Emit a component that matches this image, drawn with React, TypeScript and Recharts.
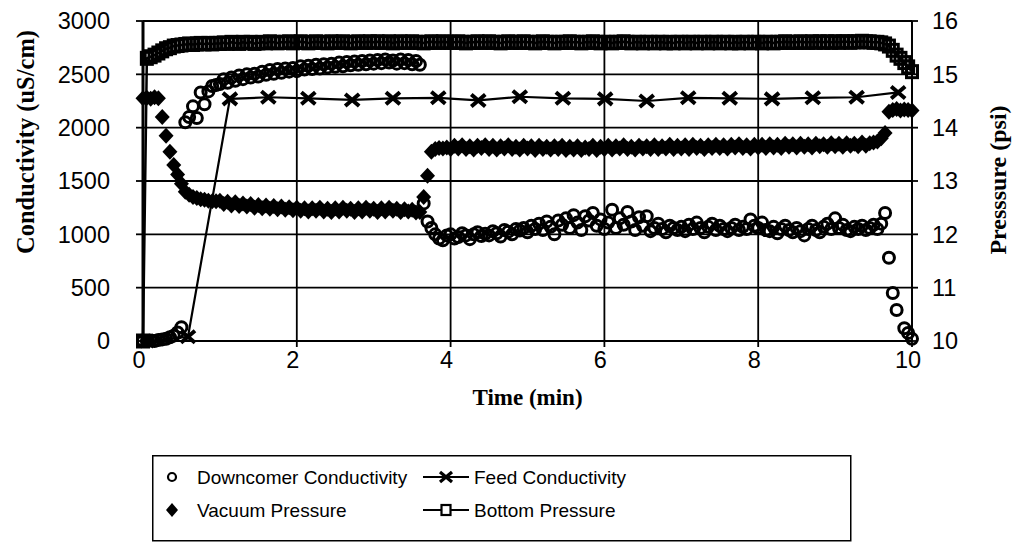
import { ComposedChart, CartesianGrid, XAxis, YAxis, Scatter, Line } from 'recharts';

// logger interval: 3 s = 0.05 min, sample i is at t = i * 0.05
const SAMPLE_MIN = 0.05;

// Downcomer conductivity (uS/cm), null = no reading
const downcomerCond: (number | null)[] = [
  0, 0, 5, 0, 10, 15, 20, 35, 50, 80,
  130, 2050, 2100, 2200, 2090, 2330, 2220, 2340, 2390, 2400,
  2410, 2455, 2420, 2470, 2440, 2490, 2455, 2500, 2470, 2505,
  2480, 2525, 2495, 2540, 2505, 2550, 2515, 2555, 2525, 2560,
  2530, 2575, 2545, 2580, 2550, 2590, 2555, 2595, 2565, 2600,
  2570, 2610, 2575, 2615, 2585, 2620, 2590, 2625, 2595, 2630,
  2600, 2635, 2605, 2640, 2610, 2630, 2600, 2640, 2605, 2635,
  2595, 2625, 2590, 1290, 1120, 1060, 1000, 960, 945, 990,
  1000, 960, 975, 1010, 990, 955, 1000, 1020, 985, 1005,
  990, 1030, 1010, 980, 1040, 1025, 1000, 1050, 1035, 1060,
  1020, 1080, 1050, 1100, 1040, 1120, 1070, 1000, 1130, 1090,
  1150, 1060, 1180, 1110, 1040, 1170, 1130, 1200, 1080, 1140,
  1050, 1110, 1230, 1060, 1150, 1090, 1210, 1120, 1040, 1160,
  1080, 1170, 1030, 1060, 1100, 1050, 1020, 1080, 1060, 1040,
  1070, 1030, 1090, 1050, 1110, 1060, 1020, 1070, 1100, 1040,
  1080, 1050, 1030, 1060, 1090, 1040, 1070, 1050, 1140, 1080,
  1060, 1110, 1040, 1030, 1070, 1010, 1050, 1080, 1040, 1020,
  1060, 1030, 990, 1050, 1080, 1040, 1020, 1070, 1100, 1050,
  1150, 1060, 1090, 1040, 1030, 1070, 1050, 1080, 1040, 1060,
  1090, 1050, 1100, 1200, 780, 450, 290, null, 120, 75,
  20,
];

// Vacuum pressure (psi)
const vacuumPsi = [
  14.55, 14.56, 14.54, 14.57, 14.55, 14.2, 13.85, 13.55, 13.3, 13.12,
  12.95, 12.8, 12.74, 12.7, 12.68, 12.66, 12.65, 12.63, 12.62, 12.62,
  12.63, 12.57, 12.61, 12.54, 12.6, 12.53, 12.58, 12.52, 12.57, 12.5,
  12.55, 12.49, 12.54, 12.48, 12.53, 12.47, 12.52, 12.46, 12.51, 12.45,
  12.5, 12.44, 12.49, 12.43, 12.49, 12.44, 12.5, 12.43, 12.48, 12.42,
  12.49, 12.43, 12.5, 12.44, 12.48, 12.42, 12.49, 12.43, 12.5, 12.44,
  12.48, 12.42, 12.49, 12.43, 12.5, 12.44, 12.48, 12.42, 12.47, 12.43,
  12.46, 12.41, 12.42, 12.7, 13.1, 13.55, 13.6, 13.62, 13.61, 13.63,
  13.6, 13.66, 13.61, 13.67, 13.6, 13.65, 13.59, 13.66, 13.62, 13.67,
  13.6, 13.66, 13.59, 13.65, 13.61, 13.67, 13.6, 13.64, 13.59, 13.66,
  13.61, 13.65, 13.58, 13.66, 13.6, 13.64, 13.59, 13.65, 13.6, 13.66,
  13.58, 13.64, 13.59, 13.65, 13.58, 13.63, 13.6, 13.66, 13.58, 13.64,
  13.6, 13.66, 13.59, 13.65, 13.61, 13.67, 13.6, 13.64, 13.59, 13.66,
  13.61, 13.65, 13.6, 13.67, 13.6, 13.65, 13.61, 13.68, 13.6, 13.66,
  13.61, 13.67, 13.6, 13.68, 13.62, 13.66, 13.6, 13.67, 13.62, 13.68,
  13.62, 13.67, 13.61, 13.68, 13.63, 13.69, 13.62, 13.67, 13.61, 13.68,
  13.63, 13.68, 13.62, 13.69, 13.63, 13.68, 13.62, 13.7, 13.64, 13.69,
  13.63, 13.7, 13.64, 13.69, 13.63, 13.7, 13.65, 13.69, 13.64, 13.71,
  13.65, 13.7, 13.64, 13.71, 13.66, 13.7, 13.65, 13.72, 13.66, 13.71,
  13.72, 13.74, 13.8, 13.9, 14.3, 14.33, 14.35, 14.32, 14.34, 14.33,
  14.32,
];

// Bottom pressure (psi)
const bottomPsi = [
  10.0, 15.3, 15.33, 15.36, 15.4, 15.44, 15.48, 15.5, 15.53, 15.54,
  15.55, 15.56, 15.57, 15.56, 15.57, 15.58, 15.57, 15.58, 15.57, 15.58,
  15.58, 15.59, 15.58, 15.6, 15.59, 15.58, 15.6, 15.59, 15.6, 15.58,
  15.59, 15.6, 15.59, 15.61, 15.6, 15.59, 15.6, 15.6, 15.61, 15.59,
  15.6, 15.61, 15.6, 15.59, 15.6, 15.61, 15.6, 15.6, 15.59, 15.61,
  15.6, 15.6, 15.61, 15.6, 15.59, 15.6, 15.61, 15.6, 15.6, 15.61,
  15.6, 15.61, 15.6, 15.6, 15.61, 15.59, 15.6, 15.61, 15.6, 15.6,
  15.61, 15.6, 15.6, 15.59, 15.6, 15.61, 15.6, 15.6, 15.61, 15.6,
  15.6, 15.6, 15.61, 15.6, 15.59, 15.6, 15.6, 15.61, 15.6, 15.6,
  15.61, 15.6, 15.6, 15.59, 15.6, 15.61, 15.6, 15.6, 15.6, 15.61,
  15.6, 15.6, 15.59, 15.6, 15.61, 15.6, 15.6, 15.59, 15.6, 15.6,
  15.6, 15.61, 15.6, 15.6, 15.59, 15.6, 15.6, 15.61, 15.6, 15.59,
  15.6, 15.6, 15.59, 15.6, 15.6, 15.61, 15.6, 15.59, 15.6, 15.6,
  15.59, 15.6, 15.6, 15.59, 15.6, 15.6, 15.59, 15.6, 15.59, 15.6,
  15.6, 15.59, 15.6, 15.6, 15.59, 15.6, 15.6, 15.59, 15.6, 15.6,
  15.59, 15.6, 15.6, 15.59, 15.6, 15.59, 15.6, 15.6, 15.59, 15.6,
  15.6, 15.59, 15.6, 15.6, 15.59, 15.6, 15.6, 15.61, 15.6, 15.6,
  15.6, 15.61, 15.6, 15.6, 15.61, 15.6, 15.61, 15.6, 15.61, 15.6,
  15.61, 15.6, 15.61, 15.61, 15.6, 15.61, 15.61, 15.62, 15.61, 15.61,
  15.6, 15.6, 15.59, 15.57, 15.53, 15.45, 15.36, 15.3, 15.22, 15.14,
  15.05,
];

// Feed conductivity is logged less often
const feedTime = [0.05, 0.585, 1.13, 1.63, 2.15, 2.72, 3.25, 3.84, 4.36, 4.9, 5.46, 6.01, 6.55, 7.09, 7.63, 8.18, 8.71, 9.28, 9.82];
const feedCond = [0, 40, 2270, 2285, 2275, 2260, 2275, 2280, 2255, 2290, 2275, 2270, 2250, 2280, 2275, 2270, 2280, 2285, 2330];

const timeTicks = [0, 2, 4, 6, 8, 10];
const condTicks = [0, 500, 1000, 1500, 2000, 2500, 3000];
const psiTicks = [10, 11, 12, 13, 14, 15, 16];

const minuteAt = (i: number) => Math.round(i * SAMPLE_MIN * 100) / 100;

const downcomerData = downcomerCond
  .map((c, i) => ({ t: minuteAt(i), c }))
  .filter((d) => d.c !== null);
const vacuumData = vacuumPsi.map((p, i) => ({ t: minuteAt(i), p }));
const bottomData = bottomPsi.map((p, i) => ({ t: minuteAt(i), p }));
const feedData = feedTime.map((t, i) => ({ t, c: feedCond[i] }));

const INK = '#000';
const SANS = '"Liberation Sans", Arial, sans-serif';
const SERIF = '"Liberation Serif", "Times New Roman", serif';

const tickStyle = { fill: INK, fontSize: 23.5, fontFamily: SANS };
const lineStyle = { stroke: INK, strokeWidth: 1.8 };

const OpenCircle = (props: any) => (
  <circle cx={props.cx} cy={props.cy} r={5.5} fill="none" stroke={INK} strokeWidth={3} />
);

const Diamond = (props: any) => {
  const { cx, cy } = props;
  return <polygon points={`${cx},${cy - 8} ${cx + 7.5},${cy} ${cx},${cy + 8} ${cx - 7.5},${cy}`} fill={INK} />;
};

const CrossDot = (props: any) => {
  const { cx, cy, index } = props;
  return (
    <path
      key={`feed-${index}`}
      d={`M${cx - 7},${cy - 6}L${cx + 7},${cy + 6}M${cx + 7},${cy - 6}L${cx - 7},${cy + 6}`}
      stroke={INK}
      strokeWidth={4}
      fill="none"
    />
  );
};

const SquareDot = (props: any) => {
  const { cx, cy, index } = props;
  return <rect key={`bot-${index}`} x={cx - 5.5} y={cy - 6} width={11} height={12} fill="none" stroke={INK} strokeWidth={3} />;
};

const condTitle = (props: any) => {
  const { x, y } = props.viewBox;
  const cx = x + 25;
  const cy = y + 121;
  return (
    <text x={cx} y={cy} transform={`rotate(-90 ${cx} ${cy})`} textAnchor="middle" dominantBaseline="central"
      fontFamily={SERIF} fontWeight="bold" fontSize={24.5} fill={INK}>
      Conductivity (uS/cm)
    </text>
  );
};

const psiTitle = (props: any) => {
  const { x, y } = props.viewBox;
  const cx = x + 86;
  const cy = y + 159;
  return (
    <text x={cx} y={cy} transform={`rotate(-90 ${cx} ${cy})`} textAnchor="middle" dominantBaseline="central"
      fontFamily={SERIF} fontWeight="bold" fontSize={24} fill={INK}>
      Presssure (psi)
    </text>
  );
};

const timeTitle = (props: any) => {
  const { x, y, width } = props.viewBox;
  return (
    <text x={x + width / 2} y={y + 56} textAnchor="middle" dominantBaseline="central"
      fontFamily={SERIF} fontWeight="bold" fontSize={23} fill={INK}>
      Time (min)
    </text>
  );
};

const legendItems = [
  { name: 'Downcomer Conductivity', mark: 'circle' },
  { name: 'Feed Conductivity', mark: 'cross' },
  { name: 'Vacuum Pressure', mark: 'diamond' },
  { name: 'Bottom Pressure', mark: 'square' },
];

function LegendMark({ mark, x, y }: { mark: string; x: number; y: number }) {
  if (mark === 'circle') return <circle cx={x} cy={y} r={4} fill="none" stroke={INK} strokeWidth={2.2} />;
  if (mark === 'diamond') return <polygon points={`${x},${y - 7} ${x + 6},${y} ${x},${y + 7} ${x - 6},${y}`} fill={INK} />;
  const line = <line x1={x - 23} x2={x + 23} y1={y} y2={y} stroke={INK} strokeWidth={2.2} />;
  if (mark === 'cross')
    return (
      <g>
        {line}
        <path d={`M${x - 6},${y - 5}L${x + 6},${y + 5}M${x + 6},${y - 5}L${x - 6},${y + 5}`} stroke={INK} strokeWidth={3.2} />
      </g>
    );
  return (
    <g>
      {line}
      <rect x={x - 4.5} y={y - 5} width={9} height={10} fill="#fff" stroke={INK} strokeWidth={2.2} />
    </g>
  );
}

function LegendBox() {
  return (
    <svg width={700} height={87} style={{ position: 'absolute', left: 152, top: 455 }}>
      <rect x={0.75} y={0.75} width={698} height={85} fill="#fff" stroke={INK} strokeWidth={1.5} />
      {legendItems.map((item, i) => {
        const col = i % 2;
        const row = Math.floor(i / 2);
        const y = 22 + row * 33;
        const markX = col === 0 ? 20 : 294;
        const textX = col === 0 ? 45 : 322;
        return (
          <g key={item.name}>
            <LegendMark mark={item.mark} x={markX} y={y} />
            <text x={textX} y={y} dominantBaseline="central" fontFamily={SANS} fontSize={19} fill={INK}>
              {item.name}
            </text>
          </g>
        );
      })}
    </svg>
  );
}

export default function App() {
  return (
    <div style={{ position: 'fixed', left: 0, top: 0, width: 1017, height: 548, background: '#fff' }}>
      <ComposedChart width={1017} height={548} margin={{ top: 21, right: 0, bottom: 0, left: 0 }}>
        <CartesianGrid yAxisId="cond" stroke={INK} strokeWidth={1.8} />
        <XAxis
          type="number"
          dataKey="t"
          domain={[0, 10]}
          ticks={timeTicks}
          interval={0}
          height={207}
          tickSize={6}
          tickMargin={4}
          axisLine={lineStyle}
          tickLine={lineStyle}
          tick={{ ...tickStyle, dx: -4 }}
          label={timeTitle}
        />
        <YAxis
          yAxisId="cond"
          dataKey="c"
          domain={[0, 3000]}
          ticks={condTicks}
          interval={0}
          width={143}
          tickSize={7}
          tickMargin={26}
          axisLine={{ stroke: INK, strokeWidth: 3 }}
          tickLine={lineStyle}
          tick={tickStyle}
          label={condTitle}
        />
        <YAxis
          yAxisId="psi"
          orientation="right"
          dataKey="p"
          domain={[10, 16]}
          ticks={psiTicks}
          interval={0}
          width={105}
          tickSize={6}
          tickMargin={14}
          axisLine={lineStyle}
          tickLine={lineStyle}
          tick={tickStyle}
          label={psiTitle}
        />
        <Line yAxisId="psi" data={bottomData} dataKey="p" name="Bottom Pressure" stroke={INK} strokeWidth={2.5}
          dot={SquareDot} isAnimationActive={false} />
        <Scatter yAxisId="psi" data={vacuumData} dataKey="p" name="Vacuum Pressure" shape={Diamond}
          isAnimationActive={false} />
        <Line yAxisId="cond" data={feedData} dataKey="c" name="Feed Conductivity" stroke={INK} strokeWidth={2.2}
          dot={CrossDot} isAnimationActive={false} />
        <Scatter yAxisId="cond" data={downcomerData} dataKey="c" name="Downcomer Conductivity" shape={OpenCircle}
          isAnimationActive={false} />
      </ComposedChart>
      <LegendBox />
    </div>
  );
}
